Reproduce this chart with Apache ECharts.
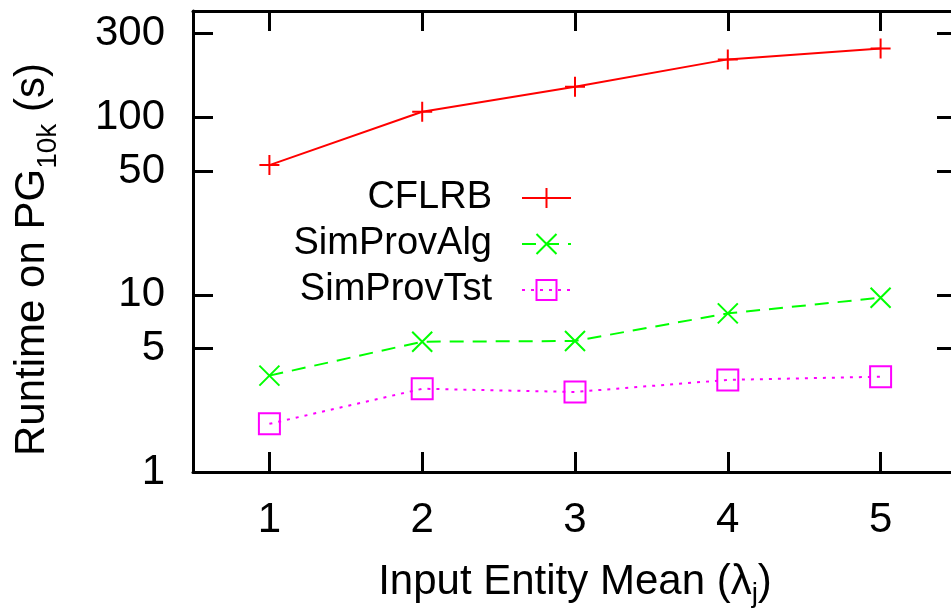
<!DOCTYPE html>
<html>
<head>
<meta charset="utf-8">
<script src="https://cdn.jsdelivr.net/npm/echarts@6/dist/echarts.min.js"></script>
<style>
html,body{margin:0;padding:0;background:#fff;}
#c{width:951px;height:612px;}
</style>
</head>
<body>
<div id="c"></div>
<script>
// ---- data ----
const xValues = [1, 2, 3, 4, 5];
const seriesNames = ['CFLRB', 'SimProvAlg', 'SimProvTst'];
const cflrb = [54.0, 108.0, 149.4, 213.3, 246];
const simProvAlg = [3.50, 5.44, 5.49, 7.86, 9.63];
const simProvTst = [1.87, 2.95, 2.83, 3.31, 3.45];
const xTicks = [1, 2, 3, 4, 5];
const yTicks = [1, 5, 10, 50, 100, 300];

const FONT = 'Liberation Sans';
const pairs = (ys) => xValues.map((x, i) => [x, ys[i]]);

const plusPath = 'path://M0,10L20,10M10,0L10,20';
const crossPath = 'path://M0,0L20,20M20,0L0,20';
const squarePath = 'path://M0,0L20,0L20,20L0,20Z';

const axisLineStyle = { show: true, lineStyle: { color: '#000', width: 3 } };
const tickStyle = (vals) => ({ show: true, inside: true, length: 20, customValues: vals, lineStyle: { color: '#000', width: 3 } });

const chart = echarts.init(document.getElementById('c'), null, { renderer: 'canvas' });

function legendFor(name, top) {
  return {
    data: [name],
    orient: 'vertical',
    right: 379,
    top: top,
    padding: 0,
    align: 'right',
    itemWidth: 49,
    itemHeight: 25,
    selectedMode: false,
    textStyle: { fontFamily: FONT, fontSize: 38, color: '#000', lineHeight: 44, padding: [0, 25, 0, 0] }
  };
}

const option = {
  animation: false,
  backgroundColor: '#fff',
  grid: { left: 193, top: 11, right: -6, bottom: 140, containLabel: false, outerBoundsMode: 'none' },
  legend: [legendFor(seriesNames[0], 176), legendFor(seriesNames[1], 222), legendFor(seriesNames[2], 268)],
  xAxis: [
    {
      type: 'value', position: 'bottom', min: 0.5, max: 5.5,
      axisLine: axisLineStyle,
      axisTick: tickStyle(xTicks),
      splitLine: { show: false },
      axisLabel: { customValues: xTicks, fontFamily: FONT, fontSize: 42, color: '#000', margin: 27 },
      name: 'Input Entity Mean (λ{s|j})',
      nameLocation: 'middle',
      nameMoveOverlap: false,
      nameGap: 84,
      nameTextStyle: {
        fontFamily: FONT, fontSize: 42, color: '#000', lineHeight: 52,
        rich: { s: { fontFamily: FONT, fontSize: 28, lineHeight: 28, verticalAlign: 'bottom', color: '#000' } }
      }
    },
    {
      type: 'value', position: 'top', min: 0.5, max: 5.5,
      axisLine: axisLineStyle,
      axisTick: tickStyle(xTicks),
      splitLine: { show: false },
      axisLabel: { show: false }
    }
  ],
  yAxis: [
    {
      type: 'log', logBase: 10, position: 'left', min: 1, max: 400,
      axisLine: axisLineStyle,
      axisTick: tickStyle(yTicks),
      minorTick: { show: false },
      splitLine: { show: false },
      axisLabel: { customValues: yTicks, fontFamily: FONT, fontSize: 42, color: '#000', margin: 28 },
      name: '{n|Runtime on PG}{s|10k}{n| (s)}',
      nameLocation: 'middle',
      nameMoveOverlap: false,
      nameRotate: 90,
      nameGap: 131,
      nameTextStyle: {
        padding: [0, 36, 0, 0],
        rich: {
          n: { fontFamily: FONT, fontSize: 42, lineHeight: 60, color: '#000' },
          s: { fontFamily: FONT, fontSize: 28, lineHeight: 28, verticalAlign: 'bottom', color: '#000' }
        }
      }
    },
    {
      type: 'log', logBase: 10, position: 'right', min: 1, max: 400,
      axisLine: axisLineStyle,
      axisTick: tickStyle(yTicks),
      splitLine: { show: false },
      axisLabel: { show: false }
    }
  ],
  series: [
    {
      name: seriesNames[0], type: 'line', data: pairs(cflrb),
      symbol: plusPath, symbolSize: 20,
      itemStyle: { color: '#ff0000', borderColor: '#ff0000', borderWidth: 2 },
      lineStyle: { color: '#ff0000', width: 2, type: 'solid' },
      emphasis: { disabled: true }
    },
    {
      name: seriesNames[1], type: 'line', data: pairs(simProvAlg),
      symbol: crossPath, symbolSize: 20,
      itemStyle: { color: '#00ff00', borderColor: '#00ff00', borderWidth: 2 },
      lineStyle: { color: '#00ff00', width: 2, type: [14, 9] },
      emphasis: { disabled: true }
    },
    {
      name: seriesNames[2], type: 'line', data: pairs(simProvTst),
      symbol: squarePath, symbolSize: 21,
      itemStyle: { color: 'rgba(0,0,0,0)', borderColor: '#ff00ff', borderWidth: 2 },
      lineStyle: { color: '#ff00ff', width: 2, type: [3, 6] },
      emphasis: { disabled: true }
    }
  ]
};
chart.setOption(option);
</script>
</body>
</html>
